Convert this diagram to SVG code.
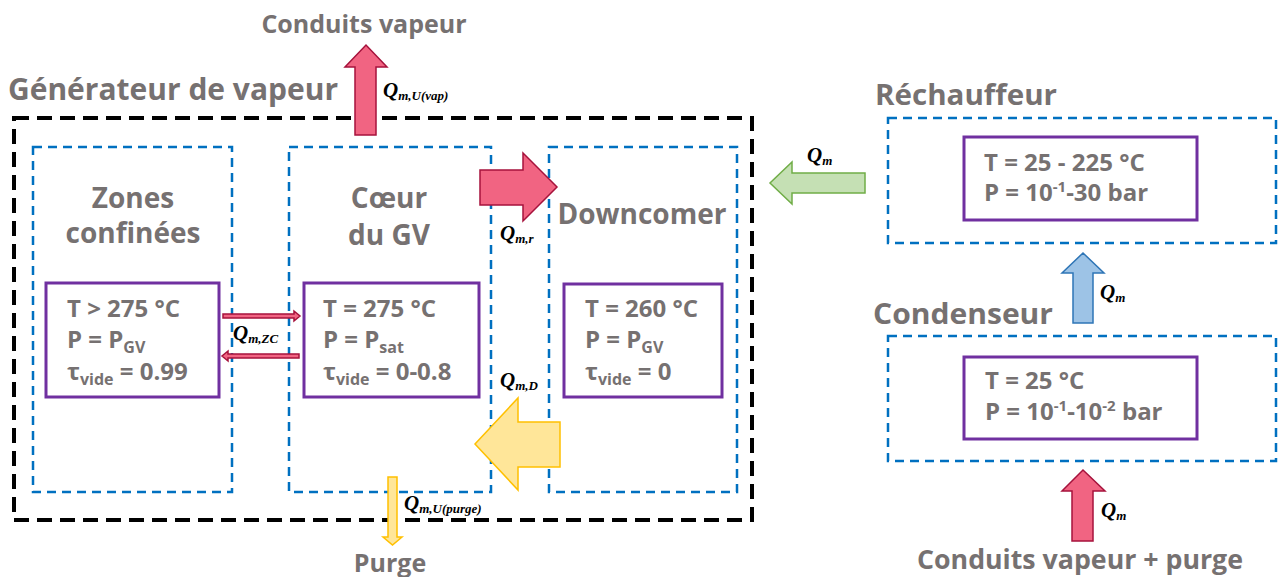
<svg xmlns="http://www.w3.org/2000/svg" width="1278" height="577" viewBox="0 0 1278 577">
  <style>
    .title { font-family: "Open Sans", "Liberation Sans", sans-serif; font-weight: 700; fill: #767171; }
    .big { font-size: 28px; }
    .mid { font-size: 25px; }
    .state { font-family: "Open Sans", "Liberation Sans", sans-serif; font-weight: 700; font-size: 24px; fill: #767171; }
    .sub { font-size: 16px; }
    .sup { font-size: 15px; }
    .gen { fill: none; stroke: #000; stroke-width: 4; stroke-dasharray: 15 8; }
    .zone { fill: none; stroke: #0070C0; stroke-width: 2.5; stroke-dasharray: 9 6; }
    .cond { fill: #fff; stroke: #7030A0; stroke-width: 3; }
    .q { font-family: "Liberation Serif", "Times New Roman", serif; font-style: italic; font-weight: 700; font-size: 21px; fill: #000; }
    .qs { font-size: 13px; }
    .red { fill: #F16482; stroke: #A6123C; stroke-width: 1.5; }
    .yellow { fill: #FFE699; stroke: #FFC000; stroke-width: 1.5; }
    .green { fill: #C5E0B4; stroke: #70AD47; stroke-width: 1.5; }
    .blue { fill: #9DC3E6; stroke: #2E75B6; stroke-width: 1.5; }
  </style>

  <!-- Steam generator envelope -->
  <g id="generateur">
    <rect class="gen" x="14" y="118" width="738" height="402"/>
    <text class="title big" x="8" y="100" style="font-size:30px" textLength="330" lengthAdjust="spacingAndGlyphs">Générateur de vapeur</text>
  </g>

  <g id="zones-confinees">
    <rect class="zone" x="33" y="147" width="199" height="345"/>
    <text class="title big" x="133" y="208" text-anchor="middle">Zones</text>
    <text class="title big" x="133" y="243" text-anchor="middle">confinées</text>
    <rect class="cond" x="46" y="283" width="173" height="114"/>
    <text class="state" x="67" y="317">T &gt; 275 °C</text>
    <text class="state" x="67" y="348">P = P<tspan class="sub" dy="5">GV</tspan></text>
    <text class="state" x="67" y="380">τ<tspan class="sub" dy="5">vide</tspan><tspan dy="-5"> = 0.99</tspan></text>
  </g>

  <g id="coeur-gv">
    <rect class="zone" x="289" y="147" width="202" height="345"/>
    <text class="title big" x="389" y="208" text-anchor="middle">Cœur</text>
    <text class="title big" x="389" y="245" text-anchor="middle">du GV</text>
    <rect class="cond" x="304" y="283" width="175" height="114"/>
    <text class="state" x="323" y="317">T = 275 °C</text>
    <text class="state" x="323" y="348">P = P<tspan class="sub" dy="5">sat</tspan></text>
    <text class="state" x="323" y="380">τ<tspan class="sub" dy="5">vide</tspan><tspan dy="-5"> = 0-0.8</tspan></text>
  </g>

  <g id="downcomer">
    <rect class="zone" x="549" y="147" width="188" height="345"/>
    <text class="title big" x="642" y="224" text-anchor="middle">Downcomer</text>
    <rect class="cond" x="564" y="284" width="158" height="113"/>
    <text class="state" x="585" y="317">T = 260 °C</text>
    <text class="state" x="585" y="348">P = P<tspan class="sub" dy="5">GV</tspan></text>
    <text class="state" x="585" y="380">τ<tspan class="sub" dy="5">vide</tspan><tspan dy="-5"> = 0</tspan></text>
  </g>

  <g id="rechauffeur">
    <text class="title big" x="875" y="105" textLength="182" lengthAdjust="spacingAndGlyphs">Réchauffeur</text>
    <rect class="zone" x="888" y="118" width="388" height="125"/>
    <rect class="cond" x="964" y="137" width="233" height="83"/>
    <text class="state" x="984" y="171">T = 25 - 225 °C</text>
    <text class="state" x="984" y="201">P = 10<tspan class="sup" dy="-9">-1</tspan><tspan dy="9">-30 bar</tspan></text>
  </g>

  <g id="condenseur">
    <text class="title big" x="873" y="324" textLength="180" lengthAdjust="spacingAndGlyphs">Condenseur</text>
    <rect class="zone" x="888" y="336" width="388" height="125"/>
    <rect class="cond" x="964" y="357" width="233" height="82"/>
    <text class="state" x="985" y="389">T = 25 °C</text>
    <text class="state" x="985" y="420">P = 10<tspan class="sup" dy="-9">-1</tspan><tspan dy="9">-10</tspan><tspan class="sup" dy="-9">-2</tspan><tspan dy="9"> bar</tspan></text>
  </g>

  <g id="conduits-vapeur">
    <text class="title mid" x="364" y="33" text-anchor="middle">Conduits vapeur</text>
  </g>

  <g id="purge">
    <text class="title mid" x="390" y="572" text-anchor="middle">Purge</text>
  </g>

  <g id="conduits-vapeur-purge">
    <text class="title mid" x="917" y="569" style="font-size:26px" textLength="326" lengthAdjust="spacingAndGlyphs">Conduits vapeur + purge</text>
  </g>

  <!-- Mass flows -->
  <g id="connectors">
    <path class="red" d="M355,135 V67 H345 L366,45 L387,67 H376 V135 Z"/>
    <text class="q" x="383" y="97">Q<tspan class="qs" dy="3">m,U(vap)</tspan></text>

    <path class="red" d="M480,170 H523 V153 L557,187 L523,221 V205 H480 Z"/>
    <text class="q" x="500" y="240">Q<tspan class="qs" dy="3">m,r</tspan></text>

    <path class="yellow" d="M560,422 H518 V398 L475,444 L518,490 V467 H560 Z"/>
    <text class="q" x="500" y="387">Q<tspan class="qs" dy="3">m,D</tspan></text>

    <path class="red" d="M223,314 H294 V311 L300,316 L294,321 V318 H223 Z"/>
    <path class="red" d="M299,354 H228 V351 L222,356 L228,361 V358 H299 Z"/>
    <text class="q" x="233" y="340">Q<tspan class="qs" dy="3">m,ZC</tspan></text>

    <path class="yellow" d="M388,477 V537 H383 L392.5,545 L402,537 H397 V477 Z"/>
    <text class="q" x="404" y="510">Q<tspan class="qs" dy="3">m,U(purge)</tspan></text>

    <path class="green" d="M865,173 H792 V162 L770,183 L792,204 V193 H865 Z"/>
    <text class="q" x="807" y="162">Q<tspan class="qs" dy="3">m</tspan></text>

    <path class="blue" d="M1073,323 V273 H1062 L1083,253 L1104,273 H1093 V323 Z"/>
    <text class="q" x="1100" y="299">Q<tspan class="qs" dy="3">m</tspan></text>

    <path class="red" d="M1072,541 V491 H1062 L1083,470 L1105,491 H1093 V541 Z"/>
    <text class="q" x="1101" y="517">Q<tspan class="qs" dy="3">m</tspan></text>
  </g>
</svg>
